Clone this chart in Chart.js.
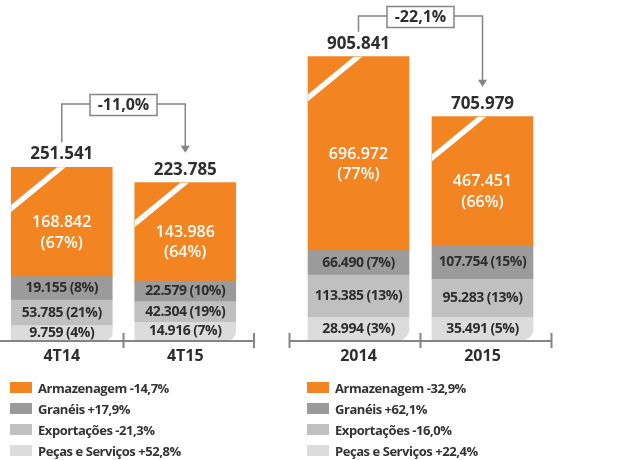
<!DOCTYPE html>
<html><head><meta charset="utf-8">
<script src="https://cdn.jsdelivr.net/npm/chart.js@4/dist/chart.umd.min.js"></script>
<style>
html,body{margin:0;padding:0;background:#fff;}
body{width:626px;height:460px;position:relative;overflow:hidden;font-family:"Open Sans",sans-serif;}
#c1{position:absolute;left:0;top:0;}
#c2{position:absolute;left:280px;top:0;}
.legend{position:absolute;top:377px;}
.item{height:21px;display:flex;align-items:center;font-size:13px;font-weight:700;letter-spacing:-0.45px;color:#333;white-space:nowrap;}
.sw{width:22px;height:11px;margin-right:6px;flex:none;}
</style></head>
<body>
<canvas id="c1" width="270" height="460"></canvas>
<canvas id="c2" width="346" height="460"></canvas>
<div class="legend" id="lg1" style="left:10px"></div>
<div class="legend" id="lg2" style="left:307px"></div>
<script>
// ---- data ----
const seriesNames = ['Armazenagem', 'Granéis', 'Exportações', 'Peças e Serviços'];

const leftCategories = ['4T14', '4T15'];
const leftArmazenagem = [168842, 143986];
const leftArmazenagemPct = [67, 64];
const leftGraneis = [19155, 22579];
const leftGraneisPct = [8, 10];
const leftExportacoes = [53785, 42304];
const leftExportacoesPct = [21, 19];
const leftPecas = [9759, 14916];
const leftPecasPct = [4, 7];
const leftTotals = [251541, 223785];
const leftChange = '-11,0%';
const leftLegendChanges = ['-14,7%', '+17,9%', '-21,3%', '+52,8%'];

const rightCategories = ['2014', '2015'];
const rightArmazenagem = [696972, 467451];
const rightArmazenagemPct = [77, 66];
const rightGraneis = [66490, 107754];
const rightGraneisPct = [7, 15];
const rightExportacoes = [113385, 95283];
const rightExportacoesPct = [13, 13];
const rightPecas = [28994, 35491];
const rightPecasPct = [3, 5];
const rightTotals = [905841, 705979];
const rightChange = '-22,1%';
const rightLegendChanges = ['-32,9%', '+62,1%', '-16,0%', '+22,4%'];

// segment heights as drawn in the (broken, non-proportional) picture, in picture units
const leftDrawnArmazenagem = [109.4, 98.3];
const leftDrawnGraneis = [23.3, 20.7];
const leftDrawnExportacoes = [25.7, 20.6];
const leftDrawnPecas = [14.3, 17.7];
const rightDrawnArmazenagem = [194, 129];
const rightDrawnGraneis = [24.3, 33.6];
const rightDrawnExportacoes = [42.3, 38];
const rightDrawnPecas = [22.7, 22.7];

// ---- styles ----
const COLORS = {arm: '#F28522', gra: '#9B9B9B', exp: '#C0C0C0', pec: '#DCDCDC'};
const TXT = '#2e2e2e';
const LINE = '#858585';
const FONT = '"Open Sans", sans-serif';

function fmt(n) { return String(n).replace(/\B(?=(\d{3})+(?!\d))/g, '.'); }

const annotPlugin = {
  id: 'annot',
  afterDatasetsDraw(chart, args, opts) {
    const ctx = chart.ctx;
    const area = chart.chartArea;
    const xs = chart.scales.x;
    const metas = [0, 1, 2, 3].map(i => chart.getDatasetMeta(i));
    const d = opts.info;

    metas.forEach((meta, di) => {
      meta.data.forEach((bar, i) => {
        const p = bar.getProps(['x', 'y', 'base', 'width'], true);
        const mid = (p.y + p.base) / 2;
        ctx.save();
        ctx.textAlign = 'center';
        ctx.textBaseline = 'middle';
        if (di === 3) {
          // break stripe
          const l = p.x - p.width / 2;
          ctx.save();
          ctx.beginPath(); ctx.rect(l, p.y, p.width, p.base - p.y); ctx.clip();
          ctx.strokeStyle = '#ffffff'; ctx.lineWidth = 5.5;
          ctx.beginPath();
          ctx.moveTo(l - 10, p.y + 41 + 8.2);
          ctx.lineTo(l + 50 + 10, p.y - 8.2);
          ctx.stroke();
          ctx.restore();
          ctx.fillStyle = '#ffffff';
          ctx.font = '600 16px ' + FONT;
          ctx.fillText(fmt(d.values[3][i]), p.x, mid + 0.5);
          ctx.fillText('(' + d.pcts[3][i] + '%)', p.x, mid + 21);
          // total
          ctx.fillStyle = TXT;
          ctx.font = 'bold 17px ' + FONT;
          ctx.fillText(fmt(d.totals[i]), p.x, p.y - 13);
        } else {
          ctx.fillStyle = TXT;
          ctx.font = 'bold 14px ' + FONT;
          ctx.letterSpacing = '-0.5px';
          ctx.fillText(fmt(d.values[di][i]) + ' (' + d.pcts[di][i] + '%)', p.x, mid);
        }
        ctx.restore();
      });
    });

    // axis line with ticks
    const ay = area.bottom + 1;
    const x0 = area.left - 7, x2 = area.right + 7;
    const xm = (xs.getPixelForValue(0) + xs.getPixelForValue(1)) / 2;
    ctx.save();
    ctx.strokeStyle = LINE; ctx.lineWidth = 2;
    ctx.beginPath(); ctx.moveTo(x0, ay); ctx.lineTo(x2, ay); ctx.stroke();
    [x0, xm, x2].forEach(tx => {
      ctx.beginPath(); ctx.moveTo(tx, ay - 8); ctx.lineTo(tx, ay + 7); ctx.stroke();
    });
    ctx.fillStyle = TXT; ctx.font = 'bold 16px ' + FONT;
    ctx.textAlign = 'center'; ctx.textBaseline = 'middle';
    chart.data.labels.forEach((lab, i) => ctx.fillText(lab, xs.getPixelForValue(i), ay + 15));
    ctx.restore();

    // change bracket with arrow
    const b0 = metas[3].data[0].getProps(['x', 'y'], true);
    const b1 = metas[3].data[1].getProps(['x', 'y'], true);
    const by = opts.bracketY;
    const startY = b0.y - 25;
    const tipY = b1.y - 30;
    const bx = (b0.x + b1.x) / 2, bw = 67, bh = 21;
    ctx.save();
    ctx.strokeStyle = LINE; ctx.lineWidth = 1.5;
    ctx.beginPath();
    ctx.moveTo(b0.x, startY); ctx.lineTo(b0.x, by); ctx.lineTo(bx - bw / 2, by);
    ctx.moveTo(bx + bw / 2, by); ctx.lineTo(b1.x, by); ctx.lineTo(b1.x, tipY - 6);
    ctx.stroke();
    ctx.fillStyle = LINE;
    ctx.beginPath();
    ctx.moveTo(b1.x - 4.5, tipY - 7); ctx.lineTo(b1.x + 4.5, tipY - 7); ctx.lineTo(b1.x, tipY);
    ctx.closePath(); ctx.fill();
    ctx.strokeRect(bx - bw / 2, by + 1 - bh / 2, bw, bh);
    ctx.fillStyle = TXT; ctx.font = 'bold 16px ' + FONT;
    ctx.textAlign = 'center'; ctx.textBaseline = 'middle';
    ctx.fillText(d.change, bx, by + 1.5);
    ctx.restore();
  }
};

function makePanel(id, cats, drawn, info, pad, bracketY) {
  new Chart(document.getElementById(id), {
    type: 'bar',
    data: {
      labels: cats,
      datasets: [
        {label: seriesNames[3], data: drawn[3], backgroundColor: COLORS.pec, borderSkipped: false,
         borderRadius: {topLeft: 0, topRight: 0, bottomLeft: 0, bottomRight: 11}},
        {label: seriesNames[2], data: drawn[2], backgroundColor: COLORS.exp},
        {label: seriesNames[1], data: drawn[1], backgroundColor: COLORS.gra},
        {label: seriesNames[0], data: drawn[0], backgroundColor: COLORS.arm}
      ]
    },
    options: {
      responsive: false, animation: false, devicePixelRatio: 1,
      layout: {padding: {left: pad[0], right: pad[1], top: 0, bottom: 120}},
      datasets: {bar: {barThickness: 101, borderWidth: 0}},
      plugins: {legend: {display: false}, tooltip: {enabled: false},
        annot: {info: info, bracketY: bracketY}},
      scales: {
        x: {display: false, stacked: true, offset: true},
        y: {display: false, stacked: true, min: 0, max: 340}
      }
    },
    plugins: [annotPlugin]
  });
}

makePanel('c1', leftCategories,
  [leftDrawnArmazenagem, leftDrawnGraneis, leftDrawnExportacoes, leftDrawnPecas],
  {values: [leftPecas, leftExportacoes, leftGraneis, leftArmazenagem],
   pcts: [leftPecasPct, leftExportacoesPct, leftGraneisPct, leftArmazenagemPct],
   totals: leftTotals, change: leftChange},
  [0, 23], 104);

makePanel('c2', rightCategories,
  [rightDrawnArmazenagem, rightDrawnGraneis, rightDrawnExportacoes, rightDrawnPecas],
  {values: [rightPecas, rightExportacoes, rightGraneis, rightArmazenagem],
   pcts: [rightPecasPct, rightExportacoesPct, rightGraneisPct, rightArmazenagemPct],
   totals: rightTotals, change: rightChange},
  [16.5, 81.5], 16);

function legend(elId, changes) {
  const cols = [COLORS.arm, COLORS.gra, COLORS.exp, COLORS.pec];
  const el = document.getElementById(elId);
  seriesNames.forEach((n, i) => {
    const it = document.createElement('div'); it.className = 'item';
    const sw = document.createElement('span'); sw.className = 'sw'; sw.style.background = cols[i];
    it.appendChild(sw);
    it.appendChild(document.createTextNode(n + ' ' + changes[i]));
    el.appendChild(it);
  });
}
legend('lg1', leftLegendChanges);
legend('lg2', rightLegendChanges);
</script>
</body></html>
